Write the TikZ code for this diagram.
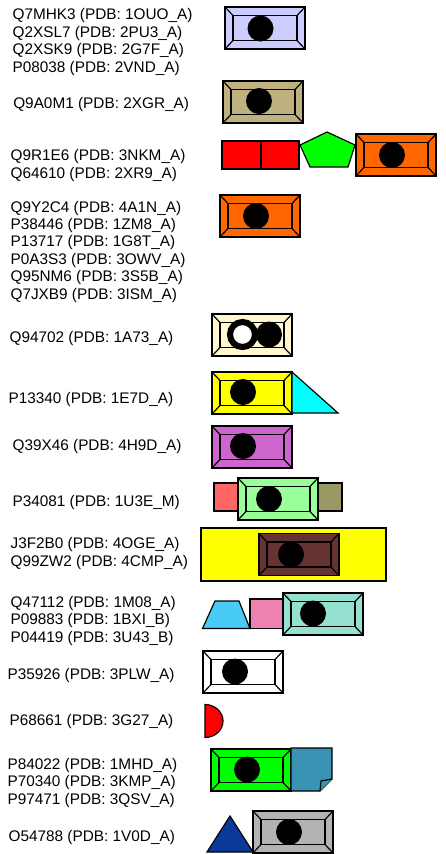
\documentclass[tikz,border=0pt]{standalone}
\usepackage{fontspec}
\setmainfont{Liberation Sans}

% bevelled domain box, 80 x 42, given by its top left corner
\newcommand{\domainbox}[3]{%
  \begin{scope}[shift={(#1,#2)}]
    \draw[fill={#3}] (0,0) rectangle (80,42);
    \draw (8,8.5) rectangle (72,33.5);
    \draw (0,0) -- (8,8.5) (80,0) -- (72,8.5) (0,42) -- (8,33.5) (80,42) -- (72,33.5);
  \end{scope}}

\begin{document}
\begin{tikzpicture}[x = 0.03cm, y = -0.03cm, line width = 1pt,
    acc/.style = {anchor = base west, inner sep = 0pt, align = left,
                  font = \fontsize{13.1}{14.8}\selectfont}]
            \useasboundingbox (0, 0) rectangle (446, 854);

            % labels sit on the baseline of their last line
            \node[acc] (Q7MHK3) at (12, 72) {Q7MHK3 (PDB: 1OUO\_A)\\Q2XSL7 (PDB: 2PU3\_A)\\Q2XSK9 (PDB: 2G7F\_A)\\P08038 (PDB: 2VND\_A)};
            \node[acc] (Q9A0M1) at (12.7, 108) {Q9A0M1 (PDB: 2XGR\_A)};
            \node[acc] (Q9R1E6) at (10, 178) {Q9R1E6 (PDB: 3NKM\_A)\\Q64610 (PDB: 2XR9\_A)};
            \node[acc] (Q9Y2C4) at (10, 299) {Q9Y2C4 (PDB: 4A1N\_A)\\P38446 (PDB: 1ZM8\_A)\\P13717 (PDB: 1G8T\_A)\\P0A3S3 (PDB: 3OWV\_A)\\Q95NM6 (PDB: 3S5B\_A)\\Q7JXB9 (PDB: 3ISM\_A)};
            \node[acc] (Q94702) at (9, 342) {Q94702 (PDB: 1A73\_A)};
            \node[acc] (P13340) at (8, 403) {P13340 (PDB: 1E7D\_A)};
            \node[acc] (Q39X46) at (12, 450) {Q39X46 (PDB: 4H9D\_A)};
            \node[acc] (P34081) at (12, 506) {P34081 (PDB: 1U3E\_M)};
            \node[acc] (J3F2B0) at (10, 566) {J3F2B0 (PDB: 4OGE\_A)\\Q99ZW2 (PDB: 4CMP\_A)};
            \node[acc] (Q47112) at (10, 642) {Q47112 (PDB: 1M08\_A)\\P09883 (PDB: 1BXI\_B)\\P04419 (PDB: 3U43\_B)};
            \node[acc] (P35926) at (7, 679) {P35926 (PDB: 3PLW\_A)};
            \node[acc] (P68661) at (9, 725) {P68661 (PDB: 3G27\_A)};
            \node[acc] (P84022) at (7, 804) {P84022 (PDB: 1MHD\_A)\\P70340 (PDB: 3KMP\_A)\\P97471 (PDB: 3QSV\_A)};
            \node[acc] (O54788) at (8, 841) {O54788 (PDB: 1V0D\_A)};

            \domainbox{225}{7}{rgb,255:red,204; green,204; blue,255}
            \fill (260.5, 28.5) circle [radius = 13];

            \domainbox{223}{81}{rgb,255:red,190; green,177; blue,127}
            \fill (259, 101) circle [radius = 13];

            \draw[fill = red] (222, 141) rectangle (299, 169);
            \draw (261, 141) -- (261, 169);
            \draw[fill = {rgb,255:red,0; green,255; blue,0}] (310, 167) -- (348, 167) -- (355, 145) -- (327, 132) -- (300, 145) -- cycle;
            \domainbox{356}{134}{rgb,255:red,255; green,102; blue,0}
            \fill (392, 155) circle [radius = 13];

            \domainbox{220}{195}{rgb,255:red,255; green,102; blue,0}
            \fill (256, 216) circle [radius = 13];

            \domainbox{212}{314}{rgb,255:red,255; green,248; blue,208}
            \fill (269, 334.5) circle [radius = 13];
            \draw[line width = 5.2pt, fill = white] (242.5, 334.5) circle [radius = 12.5];

            \domainbox{212}{372}{rgb,255:red,255; green,255; blue,0}
            \fill (243, 392) circle [radius = 13];
            \draw[fill = {rgb,255:red,0; green,255; blue,255}] (292, 372) -- (338, 413) -- (292, 413) -- cycle;

            \domainbox{212}{426}{rgb,255:red,204; green,102; blue,204}
            \fill (243, 446) circle [radius = 13];

            \draw[fill = {rgb,255:red,255; green,102; blue,102}] (214, 483) rectangle (238, 511);
            \draw[fill = {rgb,255:red,153; green,153; blue,102}] (318, 483) rectangle (342, 511);
            \domainbox{238}{478}{rgb,255:red,153; green,255; blue,153}
            \fill (269, 499) circle [radius = 13];

            \draw[fill = {rgb,255:red,255; green,255; blue,0}] (201, 528) rectangle (386, 581);
            \domainbox{259}{533.5}{rgb,255:red,102; green,51; blue,51}
            \fill (291, 554.5) circle [radius = 13];

            \draw[fill = {rgb,255:red,72; green,204; blue,245}] (202.5, 628.5) -- (250, 628.5) -- (239, 601) -- (215, 601) -- cycle;
            \draw[fill = {rgb,255:red,238; green,130; blue,176}] (250, 599) rectangle (283, 628.5);
            \domainbox{283}{593}{rgb,255:red,150; green,224; blue,208}
            \fill (313, 613.5) circle [radius = 13];

            \domainbox{203}{651}{white}
            \fill (235, 671.5) circle [radius = 13];

            \draw[fill = red] (205, 704.5) arc [start angle = -90, end angle = 90, x radius = 18, y radius = 16.5] -- cycle;

            \domainbox{211}{749}{rgb,255:red,0; green,255; blue,0}
            \fill (247, 769.5) circle [radius = 13];
            \draw[fill = {rgb,255:red,58; green,147; blue,181}] (291, 748) -- (332, 748) -- (332, 779) -- (320, 791) -- (291, 791) -- cycle;
            \draw[fill = {rgb,255:red,58; green,147; blue,181}] (332, 779) -- (321, 781) -- (320, 791);

            \draw[fill = {rgb,255:red,10; green,58; blue,153}] (207, 852) -- (253, 852) -- (230, 816) -- cycle;
            \domainbox{253}{811}{rgb,255:red,179; green,179; blue,179}
            \fill (289, 832) circle [radius = 13];

        \end{tikzpicture}
\end{document}
